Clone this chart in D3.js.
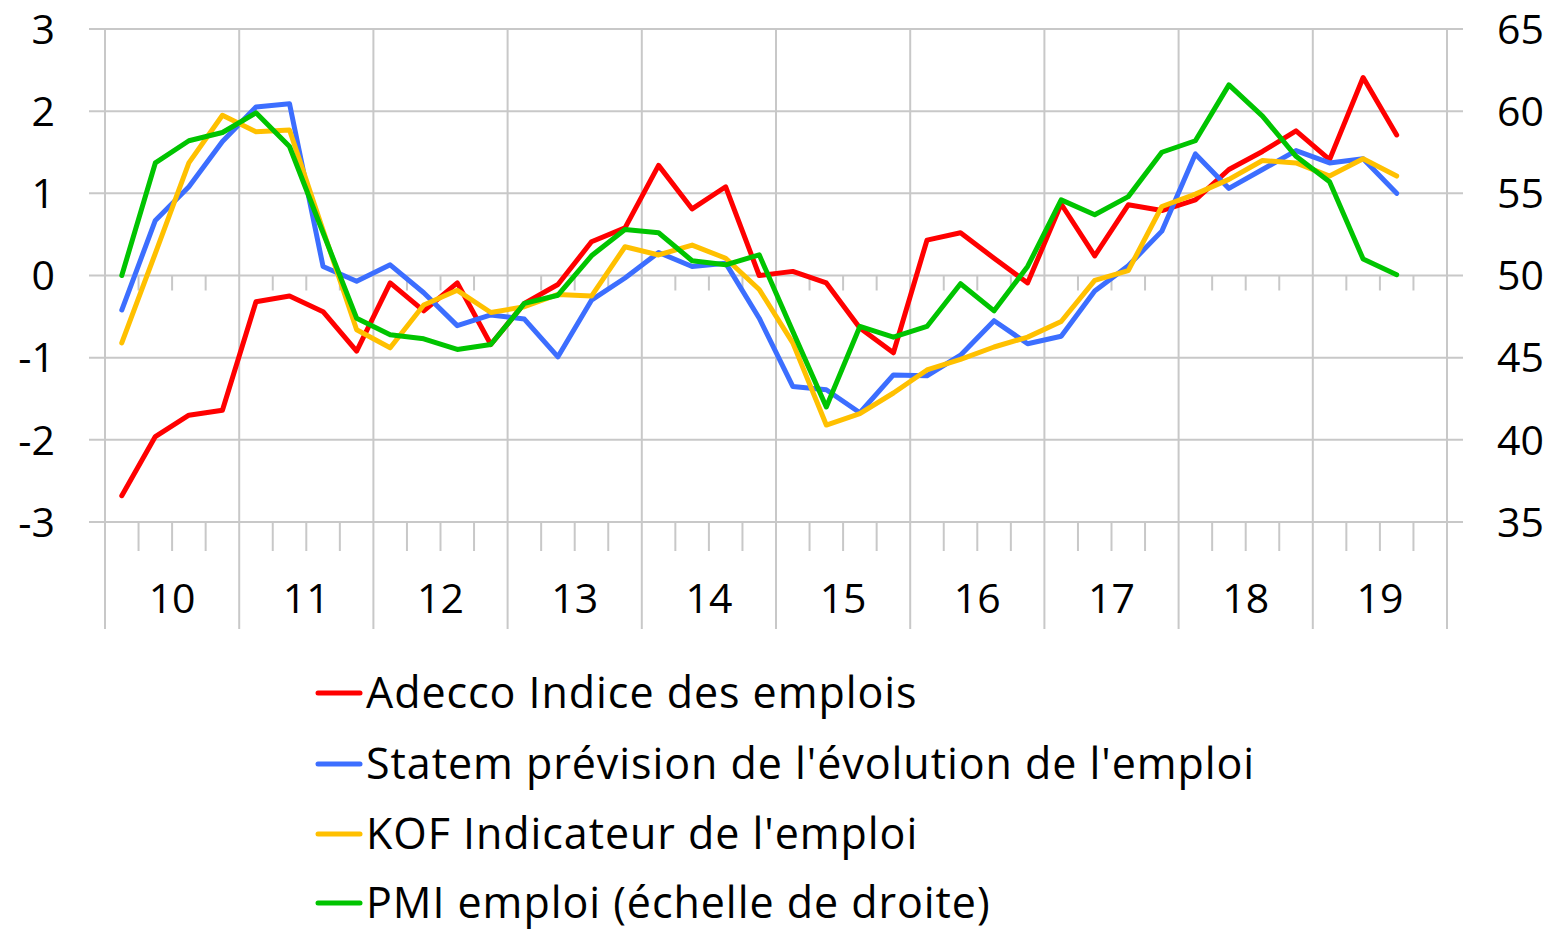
<!DOCTYPE html>
<html>
<head>
<meta charset="utf-8">
<script src="https://cdn.jsdelivr.net/npm/d3@7"></script>
<style>
  html, body { margin: 0; padding: 0; background: #fff; }
  svg { display: block; font-family: "Open Sans", "Noto Sans", sans-serif; }
</style>
</head>
<body>
<svg id="chart" width="1555" height="932"></svg>
<script>
const years = ["10","11","12","13","14","15","16","17","18","19"];
const quarterNames = ["T1","T2","T3","T4"];
const leftTicks = [-3,-2,-1,0,1,2,3];
const rightTicks = [35,40,45,50,55,60,65];

const adecco = [-2.68,-1.96,-1.70,-1.64,-0.32,-0.25,-0.44,-0.92,-0.09,-0.43,
  -0.09,-0.84,-0.34,-0.11,0.41,0.58,1.34,0.81,1.08,0.00,
  0.05,-0.09,-0.64,-0.94,0.43,0.52,0.21,-0.09,0.87,0.24,
  0.86,0.79,0.92,1.29,1.51,1.76,1.41,2.41,1.71];
const statem = [-0.42,0.67,1.08,1.63,2.05,2.09,0.11,-0.07,0.13,-0.21,
  -0.61,-0.48,-0.53,-0.99,-0.30,-0.03,0.28,0.11,0.15,-0.52,
  -1.35,-1.39,-1.67,-1.21,-1.22,-0.97,-0.55,-0.83,-0.74,-0.19,
  0.12,0.54,1.48,1.06,1.29,1.52,1.37,1.42,1.00];
const kof = [-0.82,0.27,1.37,1.95,1.75,1.77,0.55,-0.66,-0.88,-0.36,
  -0.18,-0.45,-0.38,-0.23,-0.25,0.35,0.25,0.37,0.21,-0.17,
  -0.82,-1.82,-1.68,-1.43,-1.15,-1.02,-0.87,-0.75,-0.56,-0.06,
  0.06,0.84,0.99,1.17,1.40,1.37,1.21,1.42,1.21];
const pmi = [50.0,56.85,58.2,58.7,59.9,57.85,52.6,47.4,46.4,46.15,
  45.5,45.8,48.3,48.8,51.2,52.8,52.6,50.9,50.65,51.26,
  46.6,42.0,46.9,46.25,46.9,49.5,47.85,50.55,54.6,53.7,
  54.8,57.5,58.2,61.6,59.7,57.25,55.7,51.0,50.05];

const seriesNames = ["Adecco Indice des emplois",
  "Statem prévision de l'évolution de l'emploi",
  "KOF Indicateur de l'emploi",
  "PMI emploi (échelle de droite)"];
const seriesColors = ["#FF0000","#3C6EFF","#FFC000","#00C400"];

// category list: every quarter of every year
const quarters = [];
years.forEach(y => quarterNames.forEach(q => quarters.push(y + q)));

const L = 105, R = 1447, T = 29, B = 522;
const svg = d3.select("#chart");

const x = d3.scaleBand().domain(quarters).range([L, R]).padding(0);
const xYear = d3.scaleBand().domain(years).range([L, R]).padding(0);
const yL = d3.scaleLinear().domain([-3, 3]).range([B, T]);
const yR = d3.scaleLinear().domain([35, 65]).range([B, T]);

const grid = "#C8C8C8";
const g = svg.append("g");

// horizontal gridlines (with short tick extensions)
g.selectAll("line.h").data(leftTicks).join("line")
  .attr("x1", L - 16).attr("x2", R + 16)
  .attr("y1", d => yL(d)).attr("y2", d => yL(d))
  .attr("stroke", grid).attr("stroke-width", 2);

// year boundaries (vertical)
const yearBounds = years.map(y => xYear(y)).concat([R]);
g.selectAll("line.v").data(yearBounds).join("line")
  .attr("x1", d => d).attr("x2", d => d)
  .attr("y1", T).attr("y2", 629)
  .attr("stroke", grid).attr("stroke-width", 2);

// quarter ticks on zero line and at bottom
const qBounds = quarters.map(q => x(q)).filter((d, i) => i % 4 !== 0);
g.selectAll("line.qz").data(qBounds).join("line")
  .attr("x1", d => d).attr("x2", d => d)
  .attr("y1", yL(0)).attr("y2", yL(0) + 15)
  .attr("stroke", grid).attr("stroke-width", 2);
g.selectAll("line.qb").data(qBounds).join("line")
  .attr("x1", d => d).attr("x2", d => d)
  .attr("y1", B).attr("y2", B + 29)
  .attr("stroke", grid).attr("stroke-width", 2);

// axis labels
const fs = 41;
svg.append("g").selectAll("text").data(leftTicks).join("text")
  .attr("x", 55).attr("y", d => yL(d)).attr("dy", "0.36em")
  .attr("text-anchor", "end").attr("font-size", fs).attr("fill", "#000")
  .text(d => d < 0 ? "-" + Math.abs(d) : d);
svg.append("g").selectAll("text").data(rightTicks).join("text")
  .attr("x", 1497).attr("y", d => yR(d)).attr("dy", "0.36em")
  .attr("text-anchor", "start").attr("font-size", fs).attr("fill", "#000")
  .text(d => d);
svg.append("g").selectAll("text").data(years).join("text")
  .attr("x", d => xYear(d) + xYear.bandwidth() / 2).attr("y", 598).attr("dy", "0.36em")
  .attr("text-anchor", "middle").attr("font-size", fs).attr("fill", "#000")
  .text(d => d);

// lines
const cx = i => x(quarters[i]) + x.bandwidth() / 2;
const lineL = d3.line().x((d, i) => cx(i)).y(d => yL(d));
const lineR = d3.line().x((d, i) => cx(i)).y(d => yR(d));
const data = [adecco, statem, kof];
data.forEach((s, k) => {
  svg.append("path").datum(s).attr("d", lineL)
    .attr("fill", "none").attr("stroke", seriesColors[k]).attr("stroke-width", 5)
    .attr("stroke-linejoin", "round").attr("stroke-linecap", "round");
});
svg.append("path").datum(pmi).attr("d", lineR)
  .attr("fill", "none").attr("stroke", seriesColors[3]).attr("stroke-width", 5)
  .attr("stroke-linejoin", "round").attr("stroke-linecap", "round");

// legend
const lg = svg.append("g");
const rowY = [693, 764, 834, 903];
seriesNames.forEach((n, k) => {
  lg.append("line").attr("x1", 318).attr("x2", 360)
    .attr("y1", rowY[k]).attr("y2", rowY[k])
    .attr("stroke", seriesColors[k]).attr("stroke-width", 5).attr("stroke-linecap", "round");
  lg.append("text").attr("x", 366).attr("y", rowY[k]).attr("dy", "0.35em")
    .attr("font-size", 43).attr("letter-spacing", 0.95).attr("fill", "#000").text(n);
});
</script>
</body>
</html>
